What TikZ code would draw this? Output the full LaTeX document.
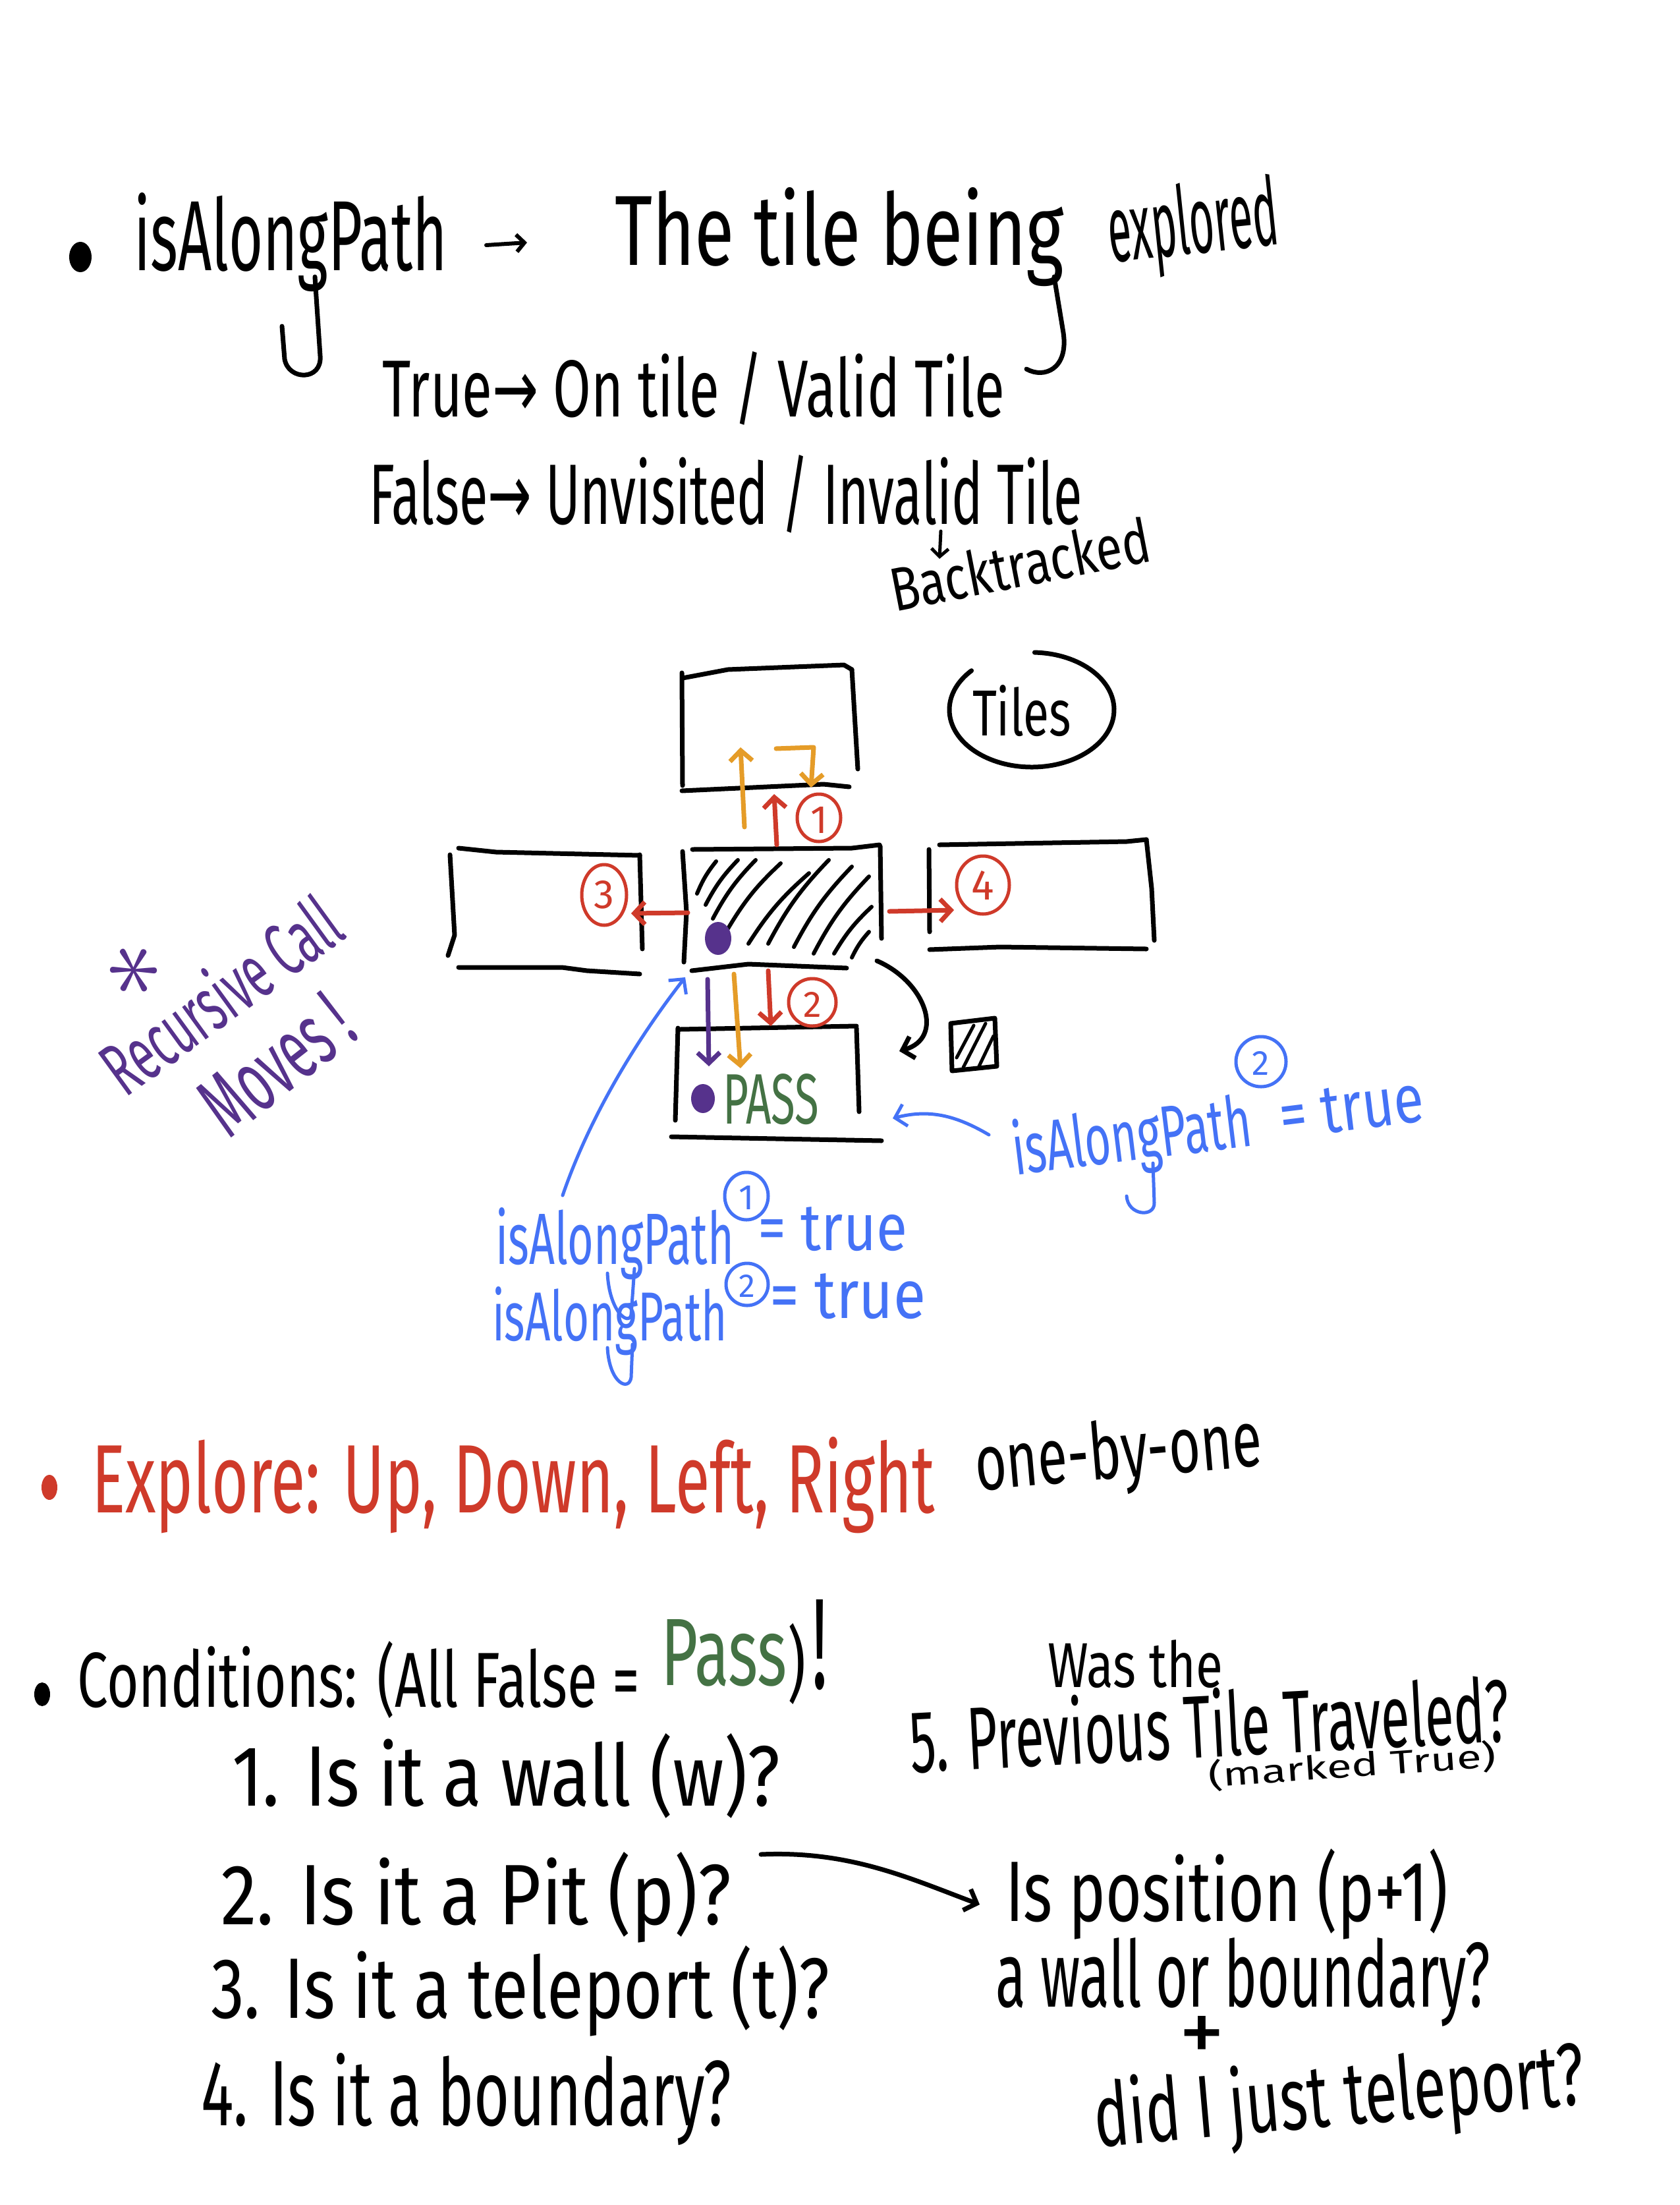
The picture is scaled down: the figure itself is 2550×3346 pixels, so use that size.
\documentclass[tikz,border=0pt]{standalone}
\usepackage{fontspec}
\setmainfont{Fira Sans}
\newfontfamily\arrowfnt{DejaVu Sans}
\usetikzlibrary{arrows.meta,calc}
\definecolor{inkred}{RGB}{207,58,42}
\definecolor{inkorange}{RGB}{229,156,40}
\definecolor{inkpurple}{RGB}{86,50,140}
\definecolor{inkblue}{RGB}{68,114,246}
\definecolor{inkgreen}{RGB}{68,114,68}
\newcommand{\hwt}[3]{\resizebox{#1pt}{#2pt}{\fontsize{100}{110}\selectfont #3}}
\newcommand{\hwh}[2]{\resizebox{!}{#1pt}{\fontsize{100}{110}\selectfont #2}}
\tikzset{
  txt/.style={inner sep=0pt, outer sep=0pt, anchor=base west},
  ctxt/.style={inner sep=0pt, outer sep=0pt, anchor=center},
  pen/.style={line width=7pt, line cap=round, line join=round},
  thinpen/.style={line width=5pt, line cap=round, line join=round},
  barb/.style={-{Straight Barb[length=16pt,width=34pt]}},
  smallbarb/.style={-{Straight Barb[length=12pt,width=26pt]}},
}
\begin{document}
\begin{tikzpicture}[x=1pt,y=-1pt]
\fill[white] (0,0) rectangle (2550,3346);
\useasboundingbox (0,0) rectangle (2550,3346);

% ---------- line 1 ----------
\fill (122,390) ellipse [x radius=17, y radius=23];
\node[txt] (iap) at (203,410) {\hwt{476}{118}{isAlongPath}};
\coordinate (r0) at (738,372);
\coordinate (r1) at (800,368);
\draw[line width=6pt, line cap=round, line join=round, smallbarb] (r0) -- (r1);
\node[txt] (tile) at (933,402) {\hwt{682}{118}{The tile being}};
\node[txt,rotate=6] (expl) at (1686,398) {\hwt{260}{108}{explored}};
\draw[pen] (478,420) -- (486,540) .. controls (489,578) and (438,578) .. (432,545) -- (428,495);
\draw[pen] (1600,420) -- (1614,505) .. controls (1622,560) and (1585,575) .. (1558,560);

\node[txt] (tru) at (580,632) {\hwt{945}{99}{True{\arrowfnt →} On tile / Valid Tile}};
\node[txt] (fal) at (560,795) {\hwt{1083}{105}{False{\arrowfnt →} Unvisited / Invalid Tile}};
\coordinate (d0) at (1428,806);
\coordinate (d1) at (1426,848);
\draw[line width=5pt, line cap=round, line join=round, smallbarb] (d0) -- (d1);
\node[txt,rotate=11] (back) at (1358,928) {\hwt{400}{70}{Backtracked}};

% ---------- tiles ----------
% top tile
\draw[pen] (1036,1029) -- (1105,1016) -- (1281,1009) -- (1293,1016);
\draw[pen] (1035,1021) -- (1036,1192);
\draw[pen] (1293,1016) -- (1302,1167);
\draw[pen] (1035,1200) -- (1250,1190) -- (1289,1194);
% centre tile
\draw[pen] (1051,1289) -- (1293,1287) -- (1335,1282);
\draw[pen] (1036,1292) -- (1042,1384) -- (1038,1460);
\draw[pen] (1336,1284) -- (1338,1424);
\draw[pen] (1050,1473) -- (1136,1463) -- (1285,1469);
% hatching
\foreach \a/\b in {{1058,1356}/{1087,1307},{1071,1373}/{1120,1305},{1082,1394}/{1147,1305},
  {1105,1409}/{1185,1310},{1136,1432}/{1228,1325},{1166,1432}/{1258,1305},
  {1205,1437}/{1293,1315},{1235,1447}/{1319,1330},{1266,1447}/{1323,1376},{1293,1453}/{1319,1414}}
  \draw[line width=6pt, line cap=round] (\a) to[bend left=8] (\b);
% left tile
\draw[pen] (696,1287) -- (753,1293) -- (971,1298);
\draw[pen] (683,1297) -- (690,1419) -- (680,1450);
\draw[pen] (971,1297) -- (975,1440);
\draw[pen] (696,1468) -- (853,1468) -- (891,1473) -- (971,1478);
% right tile
\draw[pen] (1426,1282) -- (1710,1277) -- (1740,1274);
\draw[pen] (1410,1289) -- (1411,1414);
\draw[pen] (1740,1274) -- (1748,1348) -- (1752,1427);
\draw[pen] (1411,1441) -- (1518,1437) -- (1740,1440);
% bottom tile
\draw[pen] (1032,1562) -- (1300,1557);
\draw[pen] (1029,1560) -- (1025,1700);
\draw[pen] (1300,1560) -- (1304,1687);
\draw[pen] (1019,1725) -- (1338,1731);

% dots
\fill[inkpurple] (1090,1424) ellipse [x radius=20, y radius=25];
\fill[inkpurple] (1067,1667) ellipse [x radius=18, y radius=22];
\node[txt] (pass) at (1097,1705) {\color{inkgreen}\hwt{146}{76}{PASS}};

% arrows in the tile diagram
\draw[pen, inkorange, barb] (1130,1255) -- (1124,1134);
\draw[pen, inkorange, barb] (1178,1136) -- (1235,1134) -- (1231,1195);
\draw[pen, inkred, barb] (1179,1282) -- (1175,1205);
\draw[pen, inkred, barb] (1044,1385) -- (958,1386);
\draw[pen, inkred, barb] (1350,1383) -- (1448,1381);
\draw[pen, inkpurple, barb] (1074,1486) -- (1076,1618);
\draw[pen, inkorange, barb] (1114,1478) -- (1124,1621);
\draw[pen, inkred, barb] (1166,1473) -- (1170,1557);
\draw[pen, barb] (1331,1458) .. controls (1405,1490) and (1435,1575) .. (1365,1595);

% circled numbers
\draw[thinpen, inkred] (1243,1241) ellipse [x radius=33, y radius=36];
\node[ctxt] (n1) at (1243,1244) {\color{inkred}\hwh{40}{1}};
\draw[thinpen, inkred] (917,1358) ellipse [x radius=34, y radius=46];
\node[ctxt] (n3) at (917,1358) {\color{inkred}\hwh{42}{3}};
\draw[thinpen, inkred] (1492,1343) ellipse [x radius=40, y radius=44];
\node[ctxt] (n4) at (1492,1343) {\color{inkred}\hwh{44}{4}};
\draw[thinpen, inkred] (1233,1521) ellipse [x radius=36, y radius=36];
\node[ctxt] (n2) at (1233,1524) {\color{inkred}\hwh{38}{2}};

% small hatched square
\draw[pen] (1443,1553) -- (1510,1545) -- (1513,1618) -- (1445,1625) -- cycle;
\draw[line width=5pt, line cap=round] (1452,1605) -- (1478,1556);
\draw[line width=5pt, line cap=round] (1462,1620) -- (1496,1553);
\draw[line width=5pt, line cap=round] (1486,1618) -- (1508,1572);

% Tiles label
\draw[pen] ($(1566,1077)+(272:125 and 87)$) arc[start angle=272, end angle=583, x radius=125, y radius=87];
\node[txt] (tiles) at (1476,1116) {\hwt{150}{77}{Tiles}};

% ---------- purple note ----------
\node[ctxt, rotate=30] (ast) at (205,1475) {\color{inkpurple}\resizebox{85pt}{!}{$\ast$}};
\node[ctxt, rotate=36] (rec) at (333,1508) {\color{inkpurple}\hwt{417}{90}{Recursive Call}};
\node[ctxt, rotate=38] (mov) at (420,1615) {\color{inkpurple}\hwt{255}{92}{Moves !}};

% ---------- blue notes ----------
\node[txt] (b1) at (752,1918) {\color{inkblue}\hwt{362}{86}{isAlongPath}};
\draw[thinpen, inkblue] (1133,1815) ellipse [x radius=33, y radius=36];
\node[ctxt] (b1n) at (1133,1817) {\color{inkblue}\hwh{36}{1}};
\node[txt] (b1t) at (1150,1897) {\color{inkblue}\hwt{227}{66}{= true}};
\node[txt] (b2) at (747,2034) {\color{inkblue}\hwt{357}{82}{isAlongPath}};
\draw[thinpen, inkblue] (1134,1949) ellipse [x radius=32, y radius=32];
\node[ctxt] (b2n) at (1134,1951) {\color{inkblue}\hwh{34}{2}};
\node[txt] (b2t) at (1168,2000) {\color{inkblue}\hwt{237}{68}{= true}};
\draw[thinpen, inkblue] (963,1925) -- (958,1995) .. controls (955,2012) and (925,1992) .. (922,1932);
\draw[thinpen, inkblue] (960,2040) -- (958,2090) .. controls (955,2112) and (925,2100) .. (922,2045);

\node[txt, rotate=7] (b3) at (1541,1783) {\color{inkblue}\hwt{365}{85}{isAlongPath}};
\draw[thinpen, inkblue] (1914,1611) ellipse [x radius=38, y radius=38];
\node[ctxt] (b3n) at (1914,1613) {\color{inkblue}\hwh{36}{2}};
\node[txt, rotate=7] (b3t) at (1946,1728) {\color{inkblue}\hwt{220}{68}{= true}};
\draw[thinpen, inkblue] (1750,1765) -- (1752,1825) .. controls (1753,1848) and (1712,1845) .. (1710,1815);

\draw[thinpen, inkblue, barb] (854,1814) .. controls (900,1680) and (980,1560) .. (1040,1483);
\draw[thinpen, inkblue, barb] (1501,1722) .. controls (1450,1692) and (1410,1683) .. (1355,1697);

% ---------- Explore ----------
\fill[inkred] (75,2257) ellipse [x radius=12, y radius=19];
\node[txt] (exp) at (139,2295) {\color{inkred}\hwt{1280}{115}{Explore: Up, Down, Left, Right}};
\node[txt, rotate=5] (obo) at (1483,2262) {\hwt{437}{90}{one-by-one}};

% ---------- Conditions ----------
\fill (64,2571) ellipse [x radius=12, y radius=18];
\node[txt] (cond) at (117,2590) {\hwt{854}{100}{Conditions: (All False =}};
\node[txt] (pas) at (1003,2557) {\color{inkgreen}\hwt{192}{100}{Pass}};
\node[txt] (par) at (1195,2568) {\hwt{28}{105}{)}};
\node[txt] (exc) at (1232,2562) {\hwt{24}{135}{!}};

\node[txt] (c1) at (352,2740) {\hwt{832}{110}{1. Is it a wall (w)?}};
\node[txt] (c2) at (335,2920) {\hwt{775}{110}{2. Is it a Pit (p)?}};
\node[txt] (c3) at (320,3062) {\hwt{939}{110}{3. Is it a teleport (t)?}};
\node[txt] (c4) at (305,3225) {\hwt{805}{110}{4. Is it a boundary?}};

\node[txt] (was) at (1590,2560) {\hwt{266}{72}{Was the}};
\node[txt, rotate=3] (c5) at (1383,2690) {\hwt{911}{105}{5. Previous Tile Traveled?}};
\node[txt, rotate=4] (mk) at (1835,2712) {\hwt{438}{42}{(marked True)}};

\node[txt] (pos) at (1526,2915) {\hwt{672}{110}{Is position (p+1)}};
\node[txt] (wb) at (1511,3045) {\hwt{751}{105}{a wall or boundary?}};
\node[ctxt] (plus) at (1824,3094) {\hwt{70}{70}{+}};
\node[txt, rotate=5] (tel) at (1664,3258) {\hwt{747}{105}{did I just teleport?}};

\coordinate (a0) at (1155,2814);
\coordinate (a1) at (1487,2890);
\draw[pen, barb] (a0) .. controls (1290,2808) and (1380,2850) .. (a1);
\end{tikzpicture}
\end{document}
